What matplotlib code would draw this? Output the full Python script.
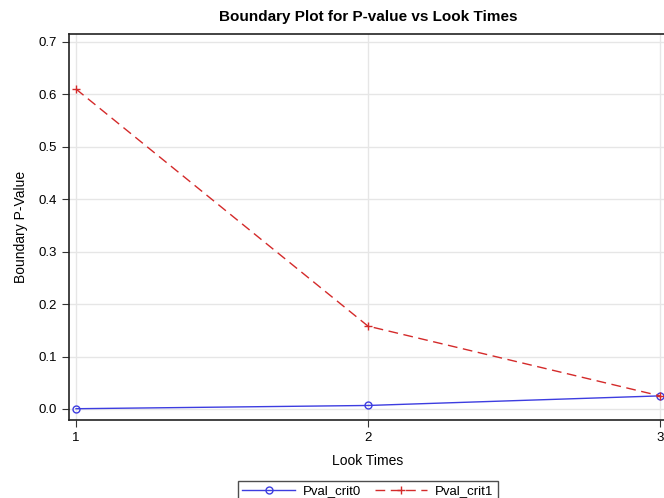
import matplotlib
matplotlib.use("Agg")
import matplotlib.pyplot as plt

plt.rcParams['font.family'] = ['Liberation Sans', 'DejaVu Sans']

# boundary values per look
look_times = [1, 2, 3]
pval_crit0 = [0.0005, 0.0067, 0.025]
pval_crit1 = [0.61, 0.158, 0.025]
y_ticks = [0.0, 0.1, 0.2, 0.3, 0.4, 0.5, 0.6, 0.7]

fig = plt.figure(figsize=(6.64, 4.98), dpi=100)
ax = fig.add_axes([69/664, 78/498, 598/664, 386/498])

ax.plot(look_times, pval_crit0, color='#3d3de0', lw=1, marker='o', ms=5,
        mfc='none', mec='#3d3de0', label='Pval_crit0')
ax.plot(look_times, pval_crit1, color='#d42a2a', lw=1, ls=(0, (7, 4)), marker='+',
        ms=6, mew=1, label='Pval_crit1')

ax.set_xlim(0.976, 3.024)
ax.set_ylim(-0.021, 0.715)
ax.set_xticks(look_times)
ax.set_yticks(y_ticks)
ax.set_yticklabels([f"{v:.1f}" for v in y_ticks])
ax.grid(True, color='#e6e6e6', lw=1)
ax.set_axisbelow(True)
ax.tick_params(labelsize=9.5, direction='out', length=5, color='#333333')
for s in ax.spines.values():
    s.set_color('#222222')
    s.set_linewidth(1.2)

ax.set_title("Boundary Plot for P-value vs Look Times", fontsize=11, fontweight='bold', pad=9)
ax.set_xlabel("Look Times", fontsize=10, labelpad=7)
ax.set_ylabel("Boundary P-Value", fontsize=10, labelpad=8)

leg = fig.legend(loc='center', bbox_to_anchor=(368/664, 7/498), ncol=2, fontsize=9.5,
                 frameon=True, fancybox=False, edgecolor='#222222', handlelength=4,
                 borderpad=0.3, columnspacing=1.0, handletextpad=0.6)
leg.get_frame().set_linewidth(1.0)

fig.savefig("out.png", dpi=100)
